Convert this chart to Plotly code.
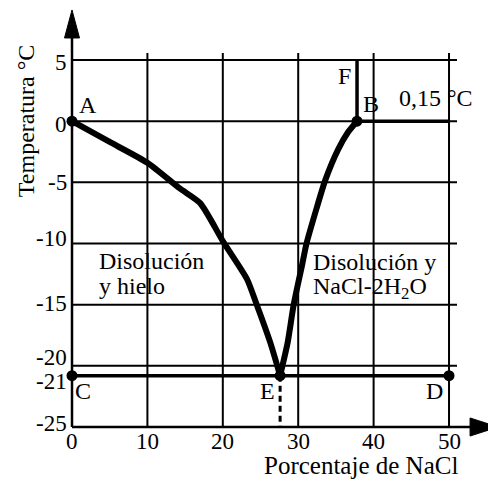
import plotly.graph_objects as go

# ---- data ----
x_ticks = [0, 10, 20, 30, 40, 50]
x_tick_labels = ["0", "10", "20", "30", "40", "50"]
y_ticks = [5, 0, -5, -10, -15, -20, -21, -25]
y_tick_labels = ["5", "0", "-5", "-10", "-15", "-20", "-21", "-25"]
grid_x = [10, 20, 30, 40, 50]
grid_y = [5, 0, -5, -10, -15, -20]

# liquidus curve (ice side) A -> E
ice_x = [0, 5, 10, 14.3, 17, 20, 23.2, 24.5, 26.3, 27.6]
ice_y = [0, -1.7, -3.4, -5.5, -6.7, -9.8, -12.9, -15.0, -18.1, -20.8]
# liquidus curve (salt side) E -> B
salt_x = [27.6, 28.6, 29.4, 30.5, 31.1, 32.4, 33.6, 35.3, 36.6, 37.8]
salt_y = [-20.8, -18.1, -15.0, -11.8, -10.0, -7.2, -4.8, -2.3, -0.9, 0]

eutectic_t = -20.8
eutectic_x = 27.6
b_x = 37.8
b_t = 0
x_min, x_max = 0, 50
y_min, y_max = -25, 5

point_x = [0, b_x, 0, x_max, eutectic_x]
point_y = [0, b_t, eutectic_t, eutectic_t, eutectic_t]

FONT = "Liberation Serif, Times New Roman, serif"
BLACK = "#000000"

fig = go.Figure()

shapes = []
# grid
for gx in grid_x:
    shapes.append(dict(type="line", xref="x", yref="y", x0=gx, x1=gx, y0=y_min, y1=5.57,
                       line=dict(color=BLACK, width=2)))
for gy in grid_y:
    shapes.append(dict(type="line", xref="x", yref="y", x0=x_min, x1=51.06, y0=gy, y1=gy,
                       line=dict(color=BLACK, width=2)))
# axes
shapes.append(dict(type="line", xref="x", yref="y", x0=0, x1=0, y0=y_min, y1=7.2,
                   line=dict(color=BLACK, width=2.5)))
shapes.append(dict(type="line", xref="x", yref="y", x0=x_min, x1=53.5, y0=y_min, y1=y_min,
                   line=dict(color=BLACK, width=2.5)))
# arrow heads
shapes.append(dict(type="path", xref="x", yref="y",
                   path="M -0.995,6.80 L 0,9.09 L 0.995,6.80 Z",
                   fillcolor=BLACK, line=dict(color=BLACK, width=1)))
shapes.append(dict(type="path", xref="x", yref="y",
                   path="M 52.79,-24.26 L 56.5,-25 L 52.79,-25.74 Z",
                   fillcolor=BLACK, line=dict(color=BLACK, width=1)))
# eutectic horizontal C-D
shapes.append(dict(type="line", xref="x", yref="y", x0=x_min, x1=x_max, y0=eutectic_t, y1=eutectic_t,
                   line=dict(color=BLACK, width=3.5)))
# dashed from E to axis
shapes.append(dict(type="line", xref="x", yref="y", x0=eutectic_x, x1=eutectic_x, y0=eutectic_t, y1=y_min,
                   line=dict(color=BLACK, width=3, dash="6px,4px")))
# F-B vertical
shapes.append(dict(type="line", xref="x", yref="y", x0=b_x, x1=b_x, y0=b_t, y1=y_max,
                   line=dict(color=BLACK, width=3.5)))
# B horizontal to 50
shapes.append(dict(type="line", xref="x", yref="y", x0=b_x, x1=x_max, y0=b_t, y1=b_t,
                   line=dict(color=BLACK, width=3.5)))

fig.add_trace(go.Scatter(x=ice_x, y=ice_y, mode="lines",
                         line=dict(color=BLACK, width=6, shape="spline", smoothing=0.6),
                         hoverinfo="skip"))
fig.add_trace(go.Scatter(x=salt_x, y=salt_y, mode="lines",
                         line=dict(color=BLACK, width=6, shape="spline", smoothing=0.6),
                         hoverinfo="skip"))
fig.add_trace(go.Scatter(x=point_x, y=point_y, mode="markers",
                         marker=dict(color=BLACK, size=11), hoverinfo="skip"))

ann = []
# y tick labels
y_pos = {5: 5, 0: 0, -5: -5, -10: -10, -15: -15, -20: -20, -21: eutectic_t, -25: -25}
y_shift = {5: -2, 0: -3, -5: 0, -10: 5, -15: 1, -20: 8, -21: -6, -25: 4}
for v, t in zip(y_ticks, y_tick_labels):
    ann.append(dict(x=0, y=y_pos[v], xref="x", yref="y", text=t, showarrow=False,
                    xanchor="right", yanchor="middle", xshift=-3, yshift=y_shift[v],
                    font=dict(family=FONT, size=23, color=BLACK)))
# x tick labels
for v, t in zip(x_ticks, x_tick_labels):
    ann.append(dict(x=v, y=y_min, xref="x", yref="y", text=t, showarrow=False,
                    xanchor="center", yanchor="middle", yshift=-14,
                    font=dict(family=FONT, size=23, color=BLACK)))

def lab(x, y, text, dx, dy, xanchor="center", size=24):
    ann.append(dict(x=x, y=y, xref="x", yref="y", text=text, showarrow=False,
                    xanchor=xanchor, yanchor="middle", xshift=dx, yshift=dy,
                    font=dict(family=FONT, size=size, color=BLACK)))

lab(0, 0, "A", 16, 16)
lab(b_x, b_t, "B", 14, 17)
lab(b_x, y_max, "F", -13, -16)
lab(0, eutectic_t, "C", 11, -15)
lab(eutectic_x, eutectic_t, "E", -13, -15)
lab(x_max, eutectic_t, "D", -15, -15)
lab(x_max, b_t, "0,15 °C", -13, 23)
lab(3.45, -11.4, "Disolución", -1, 0, "left")
lab(3.45, -13.5, "y hielo", -1, 0, "left")
lab(31.8, -11.5, "Disolución y", -1, 0, "left")
lab(31.8, -13.6, "NaCl-2H<sub>2</sub>O", -1, 0, "left")

# axis titles
lab(38.3, y_min, "Porcentaje de NaCl", 0, -38, size=25)
ann.append(dict(x=0, y=0, xref="x", yref="y", text="Temperatura °C",
                showarrow=False, textangle=-90, xshift=-46, yshift=0,
                font=dict(family=FONT, size=24, color=BLACK)))

fig.update_layout(
    width=488, height=479,
    margin=dict(l=0, r=0, t=0, b=0, pad=0),
    paper_bgcolor="white", plot_bgcolor="white",
    showlegend=False,
    xaxis=dict(range=[-9.549, 55.17], visible=False, fixedrange=True),
    yaxis=dict(range=[-29.25, 9.905], visible=False, fixedrange=True),
    shapes=shapes,
    annotations=ann,
)
fig.write_html("out.html", config={"displayModeBar": False},
               post_script="document.body.style.margin='0';document.body.style.padding='0';document.body.style.overflow='hidden';")
